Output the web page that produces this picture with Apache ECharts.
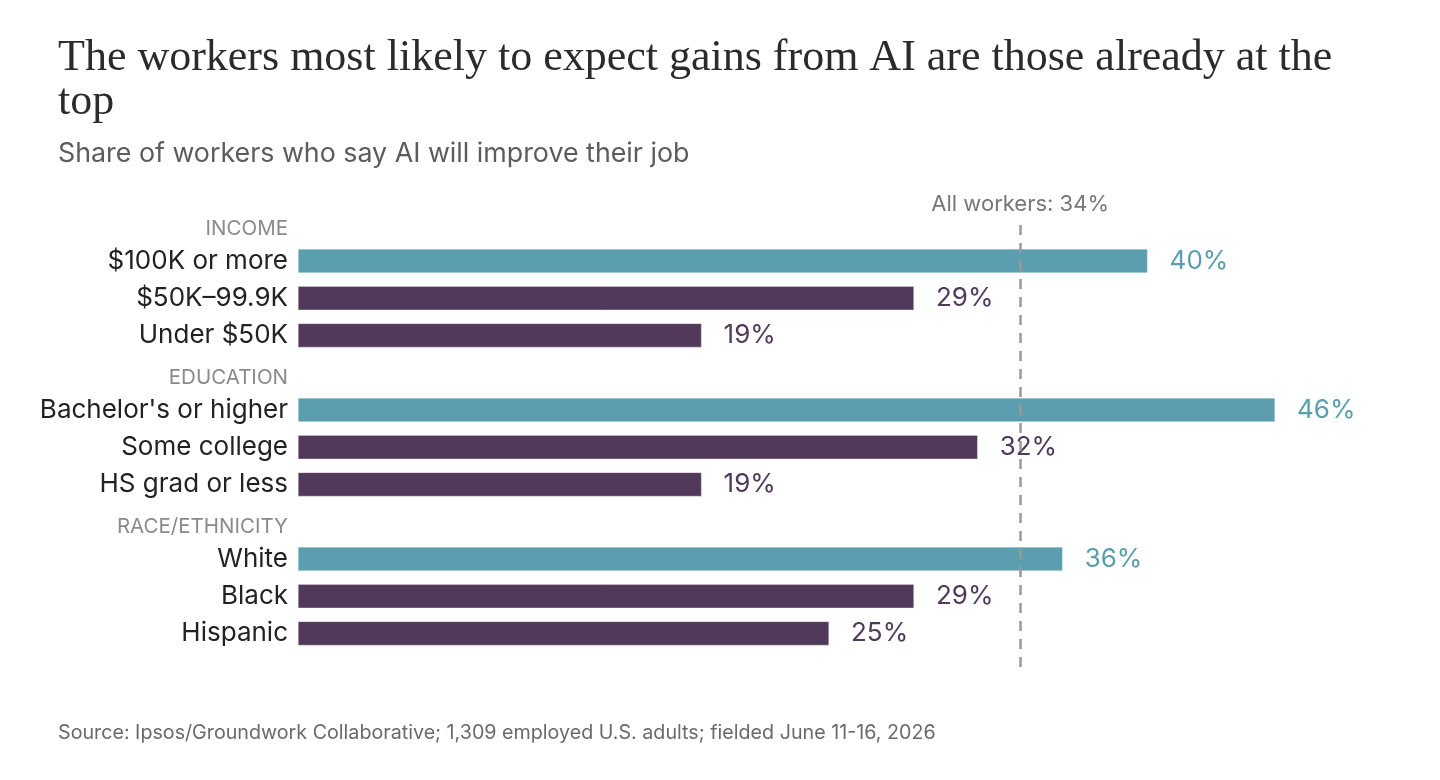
<!DOCTYPE html>
<html>
<head>
<meta charset="utf-8">
<title>AI gains</title>
<script src="https://cdn.jsdelivr.net/npm/echarts@6/dist/echarts.min.js"></script>
<style>
  html, body { margin: 0; padding: 0; background: #fff; }
  #chart { width: 1440px; height: 780px; }
</style>
</head>
<body>
<div id="chart"></div>
<script>
// rows top to bottom; group headers have no value
var categories = ['INCOME', '$100K or more', '$50K\u201399.9K', 'Under $50K',
                  'EDUCATION', "Bachelor's or higher", 'Some college', 'HS grad or less',
                  'RACE/ETHNICITY', 'White', 'Black', 'Hispanic'];
var values = [null, 40, 29, 19, null, 46, 32, 19, null, 36, 29, 25];
var headers = ['INCOME', 'EDUCATION', 'RACE/ETHNICITY'];
var topRows = ['$100K or more', "Bachelor's or higher", 'White'];
var allWorkers = 34;

var TEAL = '#5a9eaf';
var PURPLE = '#51395c';
var SANS = 'Inter, "Noto Sans", sans-serif';

var barData = values.map(function (v, i) {
    var c = topRows.indexOf(categories[i]) >= 0 ? TEAL : PURPLE;
    return {
        value: v,
        itemStyle: { color: c },
        label: { color: c }
    };
});

var myChart = echarts.init(document.getElementById('chart'));

var option = {
    backgroundColor: '#fff',
    animation: false,
    title: [{
        text: 'The workers most likely to expect gains from AI are those already at the\ntop',
        left: 53,
        top: 31,
        textStyle: {
            fontFamily: '"Liberation Serif", serif',
            fontWeight: 'normal',
            fontSize: 44,
            lineHeight: 44,
            color: '#2b2b2b'
        }
    }, {
        text: 'Share of workers who say AI will improve their job',
        left: 53,
        top: 135,
        textStyle: {
            fontFamily: SANS,
            fontWeight: 'normal',
            fontSize: 26.8,
            color: '#5c5c5c'
        }
    }, {
        text: 'Source: Ipsos/Groundwork Collaborative; 1,309 employed U.S. adults; fielded June 11-16, 2026',
        left: 53,
        top: 718,
        textStyle: {
            fontFamily: SANS,
            fontWeight: 'normal',
            fontSize: 19.7,
            color: '#6a6a6a'
        }
    }],
    grid: [
        { left: 298, right: 80, top: 205, bottom: 128, containLabel: false },
        { left: 298, right: 80, top: 223, bottom: 113, containLabel: false }
    ],
    xAxis: [
        { gridIndex: 0, type: 'value', min: 0, max: 50, show: false },
        { gridIndex: 1, type: 'value', min: 0, max: 50, show: false }
    ],
    yAxis: [{
        gridIndex: 0,
        type: 'category',
        data: categories,
        inverse: true,
        axisLine: { show: false },
        axisTick: { show: false },
        splitLine: { show: false },
        axisLabel: {
            margin: 10,
            fontFamily: SANS,
            fontSize: 26,
            color: '#222',
            formatter: function (v) {
                return headers.indexOf(v) >= 0 ? '{h|' + v + '}' : v;
            },
            rich: {
                h: { fontFamily: SANS, fontSize: 20.5, color: '#8a8a8a', padding: [10, 0, 0, 0] }
            }
        }
    }, {
        gridIndex: 1,
        type: 'value',
        min: 0,
        max: 1,
        show: false
    }],
    series: [{
        type: 'bar',
        xAxisIndex: 0,
        yAxisIndex: 0,
        data: barData,
        barWidth: 24,
        itemStyle: { borderColor: 'rgba(255,255,255,0.6)', borderWidth: 0.5 },
        label: {
            show: true,
            position: 'right',
            distance: 22,
            fontFamily: SANS,
            fontSize: 26,
            formatter: function (p) { return p.value == null ? '' : p.value + '%'; }
        },
        z: 2
    }, {
        type: 'line',
        xAxisIndex: 1,
        yAxisIndex: 1,
        data: [],
        silent: true,
        markLine: {
            symbol: 'none',
            silent: true,
            lineStyle: { color: '#9a9a9a', type: [10, 8], width: 2.5 },
            label: {
                position: 'end',
                distance: 8,
                formatter: 'All workers: ' + allWorkers + '%',
                fontFamily: SANS,
                fontSize: 22,
                color: '#777'
            },
            data: [{ xAxis: allWorkers }]
        },
        z: 1
    }]
};

myChart.setOption(option);
</script>
</body>
</html>
